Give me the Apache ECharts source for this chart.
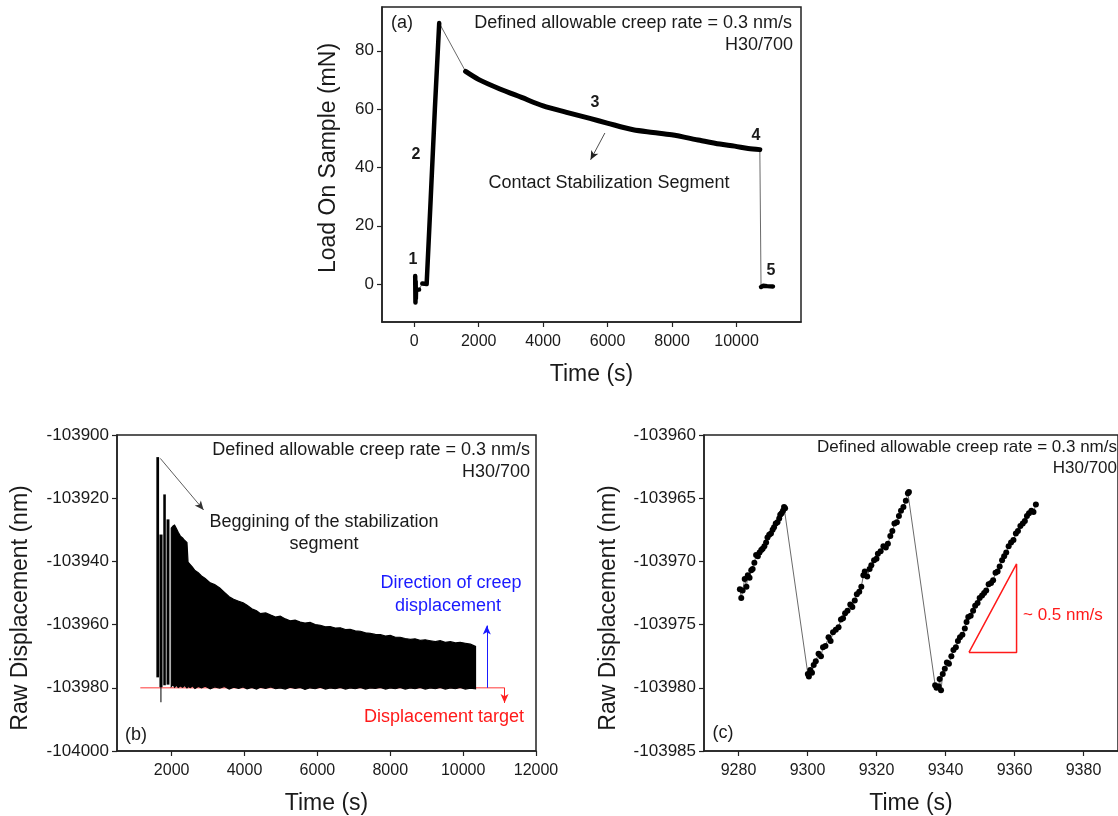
<!DOCTYPE html>
<html>
<head>
<meta charset="utf-8">
<title>Load and raw displacement vs time</title>
<script src="https://cdn.jsdelivr.net/npm/echarts@6/dist/echarts.min.js"></script>
<style>
  html, body { margin: 0; padding: 0; background: #fff; }
  #chart { width: 1118px; height: 816px; }
</style>
</head>
<body>
<div id="chart"></div>
<script>
// ---- (a) load on sample, segments 1..5 ----
const seg1Time = [30, 38, 44, 50, 56, 150];
const seg1Load = [2.8, -6.3, 1.0, -5.0, -2.0, -1.9];
const seg2Time = [250, 385, 510, 640, 775];
const seg2Load = [0.2, 0.0, 29, 60, 89.5];
const seg3Time = [1594, 2007, 2658, 3331, 4001, 4727, 5450, 5986, 6793, 7413, 7984, 8862, 9482, 9940, 10360, 10723];
const seg3Load = [72.9, 70.1, 66.9, 64.0, 61.1, 58.9, 56.8, 55.2, 52.9, 52.0, 51.2, 49.3, 48.0, 47.3, 46.5, 46.1];
const seg5Time = [10760, 10790, 10830, 10950, 11130];
const seg5Load = [-1.0, -1.4, -0.6, -0.7, -0.8];

// ---- (b) raw displacement, whole stabilization segment ----
// first separate cycles: start, end, bottom, top
const colStart  = [1580, 1665, 1692, 1770, 1860];
const colEnd    = [1655, 1750, 1712, 1840, 1940];
const colBottom = [-103976.7, -103979.8, -103984.6, -103979.2, -103979.0];
const colTop    = [-103907.0, -103931.5, -103975.0, -103918.8, -103926.7];
// envelope of the dense part
const bandTime = [1990, 2040, 2080, 2130, 2180, 2240, 2300, 2360, 2420, 2450, 2510, 2570, 2640, 2730, 2820, 2920,
  3060, 3180, 3320, 3450, 3580, 3700, 3840, 3960, 4070, 4200, 4330, 4430, 4580, 4720, 4850, 4980, 5120, 5250,
  5390, 5530, 5660, 5800, 5940, 6080, 6220, 6350, 6490, 6630, 6770, 6900, 7040, 7180, 7320, 7450, 7590, 7730,
  7870, 8000, 8140, 8270, 8410, 8550, 8680, 8820, 8960, 9100, 9240, 9370, 9510, 9650, 9790, 9920, 10060, 10200, 10340];
const bandTop = [-103929.5, -103928.8, -103928.5, -103929.6, -103930.8, -103932.0, -103932.6, -103933.4, -103934.0,
  -103940.2, -103941.0, -103941.8, -103942.9, -103943.6, -103944.6, -103945.4, -103946.8, -103947.3, -103948.4,
  -103949.8, -103951.2, -103952.0, -103952.6, -103953.1, -103953.9, -103955.0, -103955.6, -103956.5, -103956.3,
  -103957.0, -103957.6, -103957.3, -103958.2, -103958.8, -103958.6, -103959.2, -103959.5, -103959.3, -103960.0,
  -103960.2, -103960.7, -103960.6, -103961.1, -103961.0, -103961.6, -103961.5, -103962.0, -103962.1, -103962.6,
  -103962.8, -103963.1, -103963.2, -103963.6, -103963.4, -103964.0, -103964.0, -103964.4, -103964.7, -103964.5,
  -103965.0, -103964.8, -103965.1, -103965.4, -103965.1, -103965.6, -103965.4, -103965.8, -103965.6, -103965.9,
  -103966.2, -103966.9];
const bandBottom = [-103979.6, -103979.0, -103979.8, -103979.2, -103979.9, -103979.4, -103979.8, -103979.3, -103980.0,
  -103979.6, -103979.9, -103979.4, -103980.2, -103979.6, -103980.0, -103979.5, -103980.3, -103979.7, -103980.1,
  -103979.6, -103980.4, -103979.8, -103980.2, -103979.7, -103980.3, -103979.9, -103980.4, -103979.8, -103980.2,
  -103979.7, -103980.3, -103980.0, -103980.4, -103979.8, -103980.2, -103979.9, -103980.5, -103980.0, -103980.3,
  -103979.8, -103980.4, -103980.0, -103980.3, -103979.9, -103980.4, -103980.0, -103980.3, -103979.9, -103980.4,
  -103980.0, -103980.2, -103979.9, -103980.4, -103980.0, -103980.3, -103979.9, -103980.4, -103980.0, -103980.3,
  -103979.9, -103980.4, -103980.0, -103980.3, -103979.9, -103980.4, -103980.0, -103980.3, -103979.9, -103980.4,
  -103980.1, -103980.3];
const targetTime = [1140, 11137];
const targetDisp = [-103980, -103980];

// ---- (c) three creep cycles ----
const ramp1Time = [9280.4, 9280.8, 9281.2, 9281.8, 9282.3, 9282.7, 9283.2, 9283.7, 9284.1, 9284.6, 9285.1, 9285.6,
  9286.1, 9286.6, 9287.0, 9287.5, 9288.0, 9288.4, 9288.9, 9289.4, 9289.9, 9290.3, 9290.8, 9291.3, 9291.8, 9292.1,
  9292.5, 9292.9, 9293.2, 9293.5];
const ramp1Disp = [-103972.2, -103972.9, -103972.3, -103971.4, -103972.0, -103971.1, -103971.3, -103970.7, -103970.6,
  -103970.1, -103969.5, -103969.6, -103969.3, -103969.1, -103969.0, -103968.8, -103968.5, -103968.1, -103967.9,
  -103967.8, -103967.5, -103967.3, -103967.0, -103966.9, -103966.6, -103966.3, -103966.2, -103966.0, -103965.7,
  -103965.8];
const ramp2Time = [9300.1, 9300.4, 9300.8, 9301.3, 9301.8, 9302.4, 9303.2, 9303.9, 9304.5, 9305.2, 9306.1, 9306.7,
  9307.4, 9308.2, 9309.0, 9309.7, 9310.3, 9310.9, 9311.6, 9312.4, 9313.0, 9313.7, 9314.3, 9315.0, 9315.6, 9316.2,
  9316.6, 9317.3, 9318.0, 9318.5, 9319.3, 9320.0, 9320.4, 9321.2, 9322.0, 9322.7, 9323.3, 9324.0, 9324.6, 9325.2,
  9325.9, 9326.5, 9327.1, 9327.8, 9328.5, 9329.1, 9329.4];
const ramp2Disp = [-103978.9, -103979.1, -103978.6, -103978.8, -103978.2, -103977.9, -103977.3, -103977.5, -103976.8,
  -103976.7, -103976.0, -103976.3, -103975.6, -103975.4, -103975.2, -103974.6, -103974.5, -103974.1, -103973.9,
  -103973.4, -103973.6, -103973.1, -103972.6, -103972.4, -103972.0, -103971.1, -103970.8, -103971.2, -103970.6,
  -103970.3, -103969.9, -103969.8, -103969.4, -103969.2, -103968.8, -103968.9, -103968.6, -103968.0, -103967.6,
  -103967.0, -103966.9, -103966.4, -103966.0, -103965.7, -103965.2, -103964.6, -103964.5];
const ramp3Time = [9337.0, 9337.4, 9338.0, 9338.3, 9338.7, 9339.2, 9339.8, 9340.4, 9341.0, 9341.7, 9342.3, 9343.0,
  9343.6, 9344.2, 9344.9, 9345.6, 9346.1, 9346.6, 9347.3, 9348.0, 9348.6, 9349.3, 9349.9, 9350.6, 9351.2, 9351.8,
  9352.5, 9353.2, 9353.8, 9354.5, 9355.1, 9355.7, 9356.4, 9357.0, 9357.6, 9358.3, 9359.0, 9359.7, 9360.4, 9361.0,
  9361.7, 9362.4, 9363.0, 9363.6, 9364.2, 9364.9, 9365.5, 9366.2];
const ramp3Disp = [-103979.8, -103980.0, -103979.9, -103979.3, -103980.2, -103978.9, -103978.5, -103978.0, -103978.1,
  -103977.5, -103977.0, -103976.8, -103976.3, -103976.0, -103975.8, -103975.3, -103974.8, -103974.4, -103974.3,
  -103973.9, -103973.5, -103973.3, -103972.9, -103972.7, -103972.5, -103972.3, -103971.8, -103971.7, -103971.5,
  -103970.9, -103970.8, -103970.4, -103969.9, -103969.6, -103969.3, -103968.8, -103968.5, -103968.3, -103967.8,
  -103967.6, -103967.2, -103967.0, -103966.8, -103966.4, -103966.2, -103966.0, -103966.1, -103965.5];
// slope triangle (~0.5 nm/s)
const slopeTime = [9346.8, 9360.6, 9360.6, 9346.8];
const slopeDisp = [-103977.2, -103977.2, -103970.2, -103977.2];

// tick labels
const ticksA = { x: [0, 2000, 4000, 6000, 8000, 10000], y: [0, 20, 40, 60, 80] };
const ticksB = { x: [2000, 4000, 6000, 8000, 10000, 12000] };
const ticksC = { x: [9280, 9300, 9320, 9340, 9360, 9380] };

const FONT = "'Liberation Sans', Arial, sans-serif";
const INK = '#1a1a1a';
const zip = (xs, ys) => xs.map((x, i) => [x, ys[i]]);

function xAxisOf(gi, min, max, ticks) {
  return {
    gridIndex: gi, type: 'value', min: min, max: max,
    name: 'Time (s)', nameLocation: 'middle', nameGap: 41,
    nameTextStyle: { fontSize: 23, fontFamily: FONT, color: INK },
    axisLine: { show: true, onZero: false, lineStyle: { color: '#222', width: 1.5 } },
    axisTick: { show: true, length: 5, customValues: ticks, lineStyle: { color: '#222', width: 1.2 } },
    axisLabel: { fontSize: 16, fontFamily: FONT, color: INK, margin: 12, customValues: ticks, formatter: v => String(v) },
    splitLine: { show: false }
  };
}
function yAxisOf(gi, min, max, ticks, interval) {
  const ax = {
    gridIndex: gi, type: 'value', min: min, max: max,
    axisLine: { show: true, onZero: false, lineStyle: { color: '#222', width: 1.5 } },
    axisTick: { show: true, length: 5, lineStyle: { color: '#222', width: 1.2 } },
    axisLabel: { fontSize: 17, fontFamily: FONT, color: INK, margin: 8, formatter: v => String(v) },
    splitLine: { show: false }
  };
  if (ticks) { ax.axisTick.customValues = ticks; ax.axisLabel.customValues = ticks; }
  if (interval) ax.interval = interval;
  return ax;
}

function txt(text, x, y, opt) {
  opt = opt || {};
  return {
    type: 'text', x: x, y: y, rotation: opt.rot || 0, z: 100,
    style: {
      text: text, fill: opt.color || INK, fontSize: opt.size || 18, fontFamily: FONT,
      fontWeight: opt.bold ? 'bold' : 'normal', align: opt.align || 'center', verticalAlign: 'middle'
    }
  };
}

const arrowLine = (from, to, color, width) => ({
  silent: true, symbol: ['none', 'arrow'], symbolSize: [6, 9], animation: false,
  label: { show: false },
  lineStyle: { color: color, width: width, type: 'solid', opacity: 1 },
  emphasis: { disabled: true },
  data: [[{ coord: from }, { coord: to }]]
});

const dom = document.getElementById('chart');
const myChart = echarts.init(dom, null, { renderer: 'canvas' });

const allLoad = zip(seg1Time, seg1Load).concat(zip(seg2Time, seg2Load), zip(seg3Time, seg3Load), zip(seg5Time, seg5Load));
const thickSegs = [zip(seg1Time, seg1Load), zip(seg2Time, seg2Load), zip(seg3Time, seg3Load), zip(seg5Time, seg5Load)];
const cycles = zip(ramp1Time, ramp1Disp).concat(zip(ramp2Time, ramp2Disp), zip(ramp3Time, ramp3Disp));

const series = [
  // (a) thin connecting line
  {
    type: 'line', xAxisIndex: 0, yAxisIndex: 0, data: allLoad, symbol: 'none',
    lineStyle: { color: '#444', width: 0.8 },
    markLine: arrowLine([5915, 51.8], [5471, 42.6], '#222', 0.8)
  }
];
thickSegs.forEach((seg, i) => {
  series.push({
    type: 'line', xAxisIndex: 0, yAxisIndex: 0, data: seg, symbol: 'none',
    smooth: i === 2 ? 0.3 : false,
    lineStyle: { color: '#000', width: i === 2 ? 5 : 4.5, cap: 'round', join: 'round' }
  });
});

// (b) displacement target line, under the band
series.push({
  type: 'line', xAxisIndex: 1, yAxisIndex: 1, data: zip(targetTime, targetDisp), symbol: 'none',
  lineStyle: { color: '#ff7a7a', width: 1.5 }, z: 1,
  markLine: arrowLine([11137, -103980], [11137, -103984.8], '#ff2020', 1)
});
// (b) dense band
series.push({
  type: 'custom', xAxisIndex: 1, yAxisIndex: 1, clip: true,
  data: bandTime.map((t, i) => [t, bandTop[i], bandBottom[i]]),
  encode: { x: 0, y: [1, 2] },
  renderItem: function (params, api) {
    if (params.dataIndex !== 0) return null;
    const pts = [];
    for (let i = 0; i < bandTime.length; i++) pts.push(api.coord([bandTime[i], bandTop[i]]));
    for (let i = bandTime.length - 1; i >= 0; i--) pts.push(api.coord([bandTime[i], bandBottom[i]]));
    return { type: 'polygon', shape: { points: pts }, style: { fill: '#000', stroke: '#000', lineWidth: 1.2 } };
  }
});
// (b) first separate cycles
series.push({
  type: 'custom', xAxisIndex: 1, yAxisIndex: 1, clip: true,
  data: colStart.map((s, i) => [s, colEnd[i], colBottom[i], colTop[i]]),
  encode: { x: [0, 1], y: [2, 3] },
  renderItem: function (params, api) {
    const a = api.coord([api.value(0), api.value(2)]);
    const b = api.coord([api.value(1), api.value(3)]);
    return { type: 'rect', shape: { x: a[0], y: b[1], width: Math.max(1, b[0] - a[0]), height: a[1] - b[1] }, style: { fill: '#000' } };
  }
});
// (b) arrows
series.push({
  type: 'line', xAxisIndex: 1, yAxisIndex: 1, data: [], symbol: 'none',
  markLine: {
    silent: true, symbol: ['none', 'arrow'], symbolSize: [6, 9], label: { show: false },
    lineStyle: { type: 'solid', opacity: 1 }, emphasis: { disabled: true },
    data: [
      [{ coord: [10650, -103980], lineStyle: { color: '#1a1aff', width: 1 } }, { coord: [10650, -103960.3] }],
      [{ coord: [1688, -103907.4], lineStyle: { color: '#333', width: 0.8 } }, { coord: [2877, -103923.7] }]
    ]
  }
});

// (c) cycles
series.push({
  type: 'line', xAxisIndex: 2, yAxisIndex: 2, data: cycles,
  symbol: 'circle', symbolSize: 6, showAllSymbol: true,
  itemStyle: { color: '#000' }, lineStyle: { color: '#444', width: 0.8 }
});
series.push({
  type: 'line', xAxisIndex: 2, yAxisIndex: 2, data: zip(slopeTime, slopeDisp), symbol: 'none',
  lineStyle: { color: '#ff1a1a', width: 1.5 }
});

const option = {
  backgroundColor: '#fff',
  animation: false,
  grid: [
    { left: 382, top: 7, width: 419, height: 315, show: true, borderColor: '#222', borderWidth: 1.5, backgroundColor: 'transparent' },
    { left: 117, top: 435, width: 419, height: 316, show: true, borderColor: '#222', borderWidth: 1.5, backgroundColor: 'transparent' },
    { left: 704, top: 435, width: 419, height: 316, show: true, borderColor: '#222', borderWidth: 1.5, backgroundColor: 'transparent' }
  ],
  xAxis: [
    xAxisOf(0, -1000, 12000, ticksA.x),
    xAxisOf(1, 500, 12000, ticksB.x),
    xAxisOf(2, 9270, 9390, ticksC.x)
  ],
  yAxis: [
    yAxisOf(0, -13, 95, ticksA.y),
    yAxisOf(1, -104000, -103900, null, 20),
    yAxisOf(2, -103985, -103960, null, 5)
  ],
  series: series,
  graphic: [
    // (a)
    txt('(a)', 402, 23),
    txt('Defined allowable creep rate = 0.3 nm/s', 792, 23, { align: 'right' }),
    txt('H30/700', 793, 45, { align: 'right' }),
    txt('1', 413, 260, { bold: true, size: 16 }),
    txt('2', 416, 155, { bold: true, size: 16 }),
    txt('3', 595, 103, { bold: true, size: 16 }),
    txt('4', 756, 136, { bold: true, size: 16 }),
    txt('5', 771, 271, { bold: true, size: 16 }),
    txt('Contact Stabilization Segment', 609, 183),
    txt('Load On Sample (mN)', 329, 158, { size: 23, rot: Math.PI / 2 }),
    // (b)
    txt('(b)', 136, 735),
    txt('Defined allowable creep rate = 0.3 nm/s', 530, 450, { align: 'right' }),
    txt('H30/700', 530, 472, { align: 'right' }),
    txt('Beggining of the stabilization', 324, 522),
    txt('segment', 324, 544),
    txt('Direction of creep', 451, 583, { color: '#1a1aff' }),
    txt('displacement', 448, 606, { color: '#1a1aff' }),
    txt('Displacement target', 444, 717, { color: '#ff1a1a' }),
    txt('Raw Displacement (nm)', 21, 608, { size: 23, rot: Math.PI / 2 }),
    // (c)
    txt('(c)', 723, 733),
    txt('Defined allowable creep rate = 0.3 nm/s', 1117, 447, { align: 'right', size: 17 }),
    txt('H30/700', 1117, 468, { align: 'right', size: 17 }),
    txt('~ 0.5 nm/s', 1023, 615, { align: 'left', size: 17, color: '#ff1a1a' }),
    txt('Raw Displacement (nm)', 609, 608, { size: 23, rot: Math.PI / 2 })
  ]
};

if (option && typeof option === 'object') {
  myChart.setOption(option);
}
window.addEventListener('resize', function () {
  myChart.resize();
});
</script>
</body>
</html>
